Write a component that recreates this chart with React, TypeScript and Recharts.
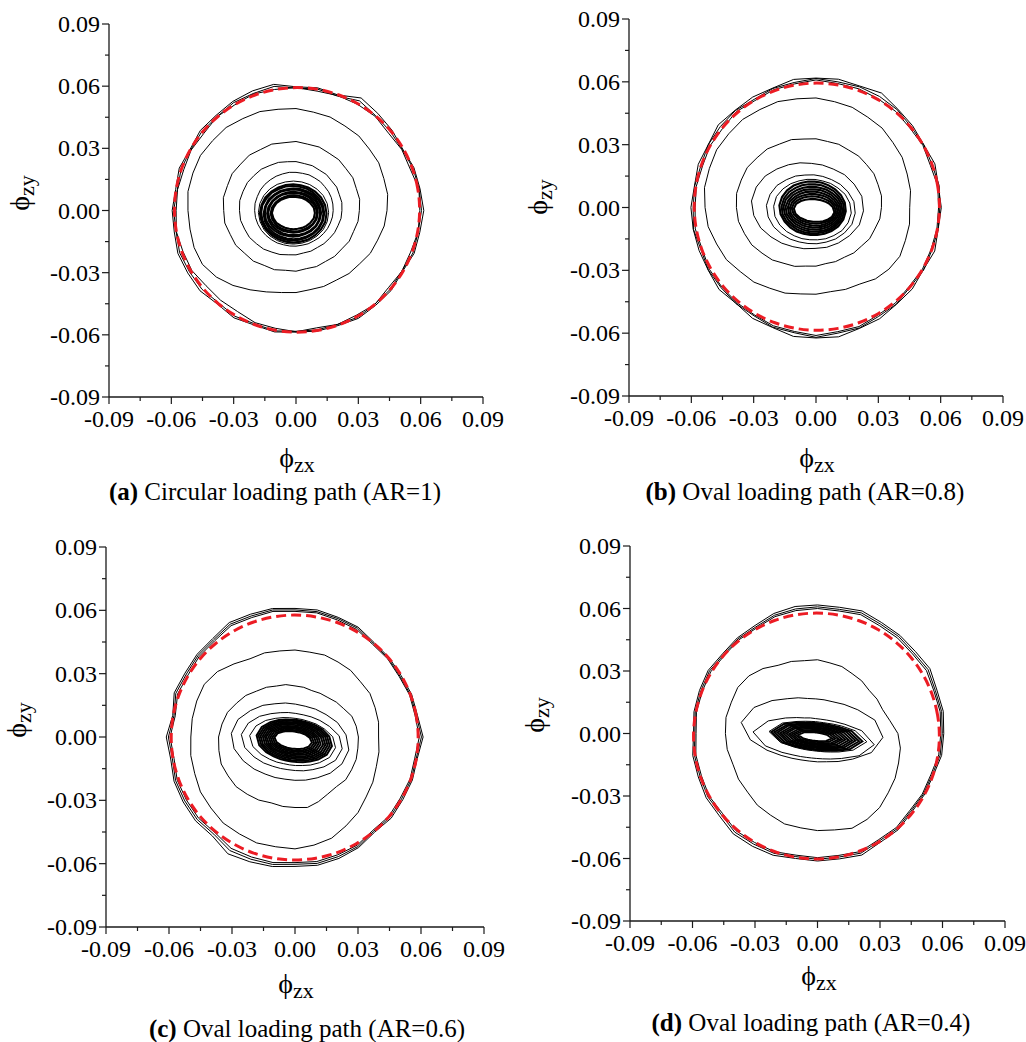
import React from 'react';
import { ScatterChart, Scatter, XAxis, YAxis } from 'recharts';

// ---------- axis ticks ----------
const TICKS = [-0.09, -0.075, -0.06, -0.045, -0.03, -0.015, 0, 0.015, 0.03, 0.045, 0.06, 0.075, 0.09];
const TICK_LABELS = ['-0.09', '-0.06', '-0.03', '0.00', '0.03', '0.06', '0.09'];

// ---------- data (all radii in units of 0.001 rad, sampled evenly around each loop) ----------
// Panel (a) circular path AR=1
const aRed = [59.3,59.3,59.3,59.3,59.3,59.3,59.3,59.3,59.3,59.3,59.3,59.3,59.3,59.3,59.3,59.3,59.3,59.3,59.3,59.3,59.3,59.3,59.3,59.3,59.3,59.3,59.3,59.3,59.3,59.3,59.3,59.3,59.3,59.3,59.3,59.3];
const aRedCenter = [0.5, 0.3];
const aOuter = [
  [61.5,60.6,60.4,59.3,60.3,61.2,62.7,59.3,60.1,59.7,61.8,61.4,60.8,59.9,60.1,58.9,59.8,58.8,59.6,59.5,60.5,60.2,60.3,58.9,59.8,58.8,59.5,58.7,59.1,59.1,60.1,59.7,59.9,59.1,60.5,60.5],
  [60.4,60.2,59.9,59.0,59.3,59.7,61.1,58.7,59.5,59.1,60.8,60.1,60.1,59.1,59.2,58.5,58.8,58.0,58.9,58.6,59.6,59.2,59.1,58.1,58.9,58.2,59.0,58.3,58.5,58.5,59.5,59.0,59.2,58.7,59.9,59.7],
  [59.6,60.1,58.5,58.8,58.1,59.3,59.2,59.0,58.5,59.3,59.3,59.8,58.9,59.1,57.9,58.3,57.5,57.9,57.7,58.5,57.9,57.9,56.5,56.5,56.3,57.6,57.7,58.5,57.5,58.5,58.3,59.1,58.0,58.8,58.7,59.7],
];
const aMid = [
  [43.8,44.8,45.0,46.0,46.1,47.0,47.1,48.0,48.2,49.2,49.6,50.8,51.2,52.3,52.4,53.1,52.8,52.8,52.0,51.8,52.2,52.0,50.0,47.2,44.2,41.8,40.2,39.6,38.8,39.0,38.8,39.7,40.0,41.3,41.8,43.1],
  [30.5,31.1,30.9,31.6,31.4,32.0,31.9,32.6,32.5,33.3,33.2,34.1,34.0,34.9,34.8,35.5,35.1,35.5,34.8,34.8,33.7,33.5,32.2,31.9,30.6,30.4,29.3,29.3,28.5,28.8,28.4,28.9,28.8,29.6,29.5,30.3],
  [22.1,22.4,22.2,22.6,22.3,22.7,22.5,23.0,23.0,23.6,23.9,24.7,25.1,26.0,26.3,27.0,27.1,27.5,27.2,27.1,26.3,25.9,24.9,24.3,23.2,22.6,21.7,21.4,20.8,20.9,20.6,20.9,21.0,21.4,21.5,22.0],
  [17.9,18.0,18.1,18.1,18.0,18.2,18.1,18.3,18.2,18.4,18.7,18.8,19.1,19.3,19.6,19.8,19.8,20.0,19.9,19.8,19.5,19.2,18.8,18.4,18.1,17.6,17.4,17.2,17.0,17.1,17.0,17.2,17.3,17.5,17.6,17.8],
];
const aInner = [
  [16.9,16.8,16.5,16.0,15.6,15.3,15.2,15.3,15.7,16.1,16.5,16.8,16.9,16.7,16.4,16.0,15.6,15.4,15.2,15.3,15.6,16.0,16.5,16.8],
  [16.0,15.8,15.4,14.9,14.4,14.1,14.0,14.2,14.4,14.9,15.5,15.8,16.1,15.8,15.4,14.8,14.4,14.1,14.1,14.1,14.5,14.9,15.4,15.9],
  [15.2,15.0,14.6,14.0,13.6,13.2,13.1,13.3,13.5,14.1,14.5,15.1,15.2,14.9,14.6,14.0,13.5,13.2,13.2,13.2,13.6,14.0,14.6,15.0],
  [14.4,14.2,13.7,13.2,12.6,12.4,12.2,12.3,12.7,13.1,13.8,14.1,14.4,14.2,13.7,13.2,12.7,12.3,12.3,12.3,12.6,13.2,13.7,14.2],
  [13.6,13.3,12.9,12.3,11.7,11.5,11.3,11.4,11.8,12.3,12.8,13.4,13.5,13.4,12.9,12.2,11.8,11.4,11.4,11.5,11.7,12.3,12.9,13.3],
  [12.7,12.5,12.1,11.4,10.9,10.5,10.5,10.6,10.9,11.5,12.0,12.6,12.8,12.5,12.0,11.3,10.9,10.6,10.4,10.6,10.9,11.4,12.1,12.5],
  [11.9,11.8,11.1,10.6,10.0,9.7,9.5,9.7,10.1,10.5,11.2,11.6,12.0,11.7,11.2,10.5,10.0,9.6,9.6,9.7,10.0,10.6,11.1,11.7],
  [11.1,10.9,10.4,9.6,9.1,8.8,8.7,8.9,9.2,9.7,10.3,10.9,11.2,10.8,10.3,9.7,9.1,8.7,8.7,8.8,9.1,9.6,10.4,10.9],
  [10.3,10.1,9.4,8.8,8.3,7.9,7.8,8.0,8.2,8.8,9.5,10.0,10.4,10.0,9.5,8.7,8.2,7.9,7.9,7.9,8.3,8.8,9.4,10.1],
];
const aInnerCenters = [[-1.2,-1.0],[-1.3,-1.4],[-1.6,-1.3],[-1.2,-1.6],[-1.5,-1.2],[-1.1,-1.5],[-1.4,-1.1],[-1.0,-1.4],[-1.2,-1.2]];
const aThinInner = 1;
const aTilt = 0;

// Panel (b) oval path AR=0.8
const bRed = [59.3,59.3,59.3,59.3,59.3,59.3,59.3,59.3,59.3,59.3,59.3,59.3,59.3,59.3,59.3,59.3,59.3,59.3,59.3,59.3,59.3,59.3,59.3,59.3,59.3,59.3,59.3,59.3,59.3,59.3,59.3,59.3,59.3,59.3,59.3,59.3];
const bRedCenter = [0.4, 0.4];
const bOuter = [
  [60.3,59.8,60.9,59.9,60.7,61.3,63.1,61.7,62.2,61.8,62.1,60.7,60.9,60.6,61.4,59.9,60.3,59.4,60.2,60.0,59.9,59.9,60.9,59.8,61.1,61.0,62.5,62.3,62.7,61.4,61.3,60.3,60.5,59.6,60.8,59.7],
  [59.6,60.2,59.5,59.9,59.8,60.9,61.2,61.3,60.9,61.6,60.6,60.5,59.6,60.4,60.1,59.9,58.9,59.3,59.1,59.9,58.9,59.8,59.6,59.9,59.7,60.8,60.7,62.0,60.9,61.2,60.1,60.2,59.1,59.8,59.4,59.7],
  [59.0,59.5,58.6,59.4,59.0,59.8,59.9,60.3,60.1,60.9,59.9,59.8,58.9,59.7,58.7,58.9,58.1,58.5,58.2,59.0,58.3,59.2,59.1,59.3,59.2,60.1,60.1,61.1,60.2,60.5,59.4,59.5,58.6,59.1,58.9,59.1],
];
const bMid = [
  [45.1,46.2,46.7,47.9,48.3,49.5,49.8,50.9,51.3,52.3,52.7,53.8,54.0,54.9,54.8,55.2,54.6,54.5,53.4,52.7,50.9,49.8,47.6,46.5,44.5,43.5,41.9,41.4,40.8,41.6,42.2,44.5,45.8,46.6,45.8,45.7],
  [31.5,32.0,31.8,32.2,31.8,32.0,31.6,32.1,32.0,32.8,33.2,34.5,35.0,36.5,37.0,38.2,38.3,38.8,38.3,37.9,36.6,35.7,33.9,32.7,30.8,29.9,28.4,28.0,27.2,27.5,27.4,28.3,28.6,29.8,30.1,31.2],
];
const bInner = [
  [27.0,26.5,24.7,23.2,21.5,20.8,20.4,20.9,21.7,23.0,24.9,26.3,27.1,26.3,24.9,23.0,21.7,20.7,20.5,20.6,21.8,23.1,24.7,26.5],
  [21.4,21.0,19.7,18.5,17.3,16.7,16.5,16.6,17.5,18.4,19.9,20.9,21.5,20.9,19.8,18.4,17.4,16.6,16.4,16.7,17.3,18.5,19.7,21.0],
  [18.8,18.3,17.4,16.1,15.3,14.6,14.5,14.7,15.2,16.2,17.3,18.4,18.7,18.3,17.3,16.2,15.2,14.7,14.4,14.6,15.3,16.1,17.4,18.3],
  [16.0,15.7,15.0,14.1,13.4,13.0,12.8,13.0,13.4,14.2,15.0,15.7,16.1,15.7,14.9,14.1,13.5,12.9,12.8,12.9,13.4,14.1,15.0,15.7],
  [15.1,14.8,13.9,13.1,12.3,11.9,11.7,11.9,12.4,13.0,14.0,14.7,15.1,14.8,14.0,13.0,12.4,11.9,11.8,11.9,12.3,13.1,13.9,14.8],
  [14.2,13.8,13.0,12.0,11.3,10.8,10.7,10.9,11.3,12.0,12.9,13.9,14.3,13.8,12.9,12.0,11.2,10.8,10.7,10.8,11.3,12.1,12.9,13.8],
  [13.3,12.9,11.9,11.0,10.2,9.8,9.6,9.7,10.3,10.9,11.9,12.8,13.4,12.9,11.8,10.9,10.2,9.8,9.6,9.8,10.2,11.0,11.9,12.9],
  [12.5,11.9,10.9,9.9,9.1,8.7,8.6,8.7,9.2,9.9,10.8,12.0,12.4,11.9,10.9,9.8,9.2,8.7,8.5,8.7,9.1,9.9,10.9,11.9],
  [11.6,11.0,9.8,8.9,8.1,7.6,7.5,7.7,8.0,8.8,9.9,11.0,11.5,11.1,9.9,8.8,8.1,7.6,7.5,7.7,8.1,8.9,9.8,11.0],
  [10.7,10.0,8.9,7.7,7.0,6.6,6.5,6.6,7.0,7.8,8.8,10.1,10.7,10.0,8.8,7.8,7.0,6.6,6.4,6.6,7.0,7.7,8.9,10.0],
  [9.8,9.1,7.9,6.7,5.9,5.5,5.4,5.6,5.9,6.7,7.8,9.2,9.8,9.1,7.8,6.6,6.0,5.5,5.4,5.5,6.0,6.7,7.8,9.1],
];
const bInnerCenters = [[-4.05,0.75],[-2.45,-0.85],[-1.75,-1.05],[-1.6,-0.4],[-1.5,-0.6],[-1.4,-0.8],[-1.3,-0.9],[-1.2,-1.0],[-1.1,-1.1],[-1.0,-1.2],[-0.9,-1.4]];
const bThinInner = 3;
const bTilt = -5;

// Panel (c) oval path AR=0.6
const cRed = [59.1,59.1,59.0,58.9,58.8,58.6,58.5,58.4,58.3,58.3,58.3,58.4,58.5,58.6,58.8,58.9,59.0,59.1,59.1,59.1,59.0,58.9,58.8,58.6,58.5,58.4,58.3,58.3,58.3,58.4,58.5,58.6,58.8,58.9,59.0,59.1];
const cRedCenter = [-0.15, -0.25];
const cOuter = [
  [61.0,59.2,59.1,58.3,58.5,58.5,60.1,60.3,61.1,60.9,61.8,61.9,62.6,60.9,60.9,60.5,61.2,59.1,61.3,60.1,61.3,61.5,61.8,61.2,63.9,62.9,62.3,61.3,61.7,61.2,60.5,58.9,59.8,59.3,59.5,59.1],
  [60.2,58.7,58.5,57.7,58.0,57.9,59.5,59.7,60.3,60.2,61.1,61.0,61.7,60.2,60.2,59.7,60.4,58.5,60.3,59.3,60.5,60.6,60.8,60.1,62.1,61.6,61.3,60.3,60.8,60.3,59.9,58.3,59.1,58.6,58.9,58.6],
  [59.2,58.1,58.1,57.3,57.6,57.4,58.8,59.0,59.7,59.5,60.4,60.2,60.9,59.5,59.5,58.8,59.5,57.9,59.5,58.5,59.7,59.7,59.9,59.2,60.9,60.5,60.4,59.5,59.9,59.4,59.2,57.7,58.4,57.9,58.3,57.9],
];
const cMid = [
  [39.8,40.4,40.6,41.2,40.7,41.2,41.0,41.3,40.8,41.2,41.4,42.4,42.8,45.2,48.2,49.9,49.8,49.7,49.6,50.4,50.8,52.0,52.3,53.2,53.0,53.4,52.8,53.0,52.0,51.0,48.6,46.7,44.2,42.8,41.2,40.6],
  [30.2,29.6,28.8,26.8,25.7,24.4,23.9,23.4,23.9,24.2,25.2,25.7,27.2,28.4,30.6,32.1,34.2,35.3,36.4,36.8,37.4,36.8,36.6,35.4,34.5,33.2,33.4,33.4,33.9,32.6,31.2,30.7,31.5,31.1,31.0,30.4],
];
const cInner = [
  [28.2,26.8,24.3,21.4,19.6,18.3,18.0,18.5,19.4,21.6,24.0,27.0,28.3,26.9,24.1,21.5,19.4,18.4,17.9,18.4,19.6,21.4,24.2,26.8],
  [24.2,22.7,19.3,16.7,14.9,13.8,13.5,13.9,14.8,16.6,19.5,22.5,24.3,22.6,19.4,16.8,14.8,13.8,13.4,13.8,14.9,16.6,19.4,22.6],
  [20.6,19.2,16.2,13.9,12.2,11.4,11.1,11.4,12.3,13.8,16.3,19.0,20.7,19.1,16.2,13.8,12.3,11.3,11.1,11.4,12.2,13.9,16.2,19.1],
  [18.1,16.8,14.4,12.3,10.9,10.1,9.9,10.1,10.9,12.3,14.4,16.8,18.1,16.8,14.4,12.3,10.9,10.1,9.9,10.1,10.9,12.3,14.4,16.8],
  [17.1,15.8,13.5,11.5,10.2,9.5,9.2,9.5,10.2,11.5,13.5,15.8,17.1,15.8,13.5,11.5,10.2,9.5,9.3,9.5,10.2,11.5,13.5,15.9],
  [16.1,14.9,12.6,10.7,9.5,8.8,8.6,8.8,9.5,10.7,12.6,14.8,16.1,14.9,12.6,10.7,9.5,8.8,8.6,8.8,9.5,10.7,12.6,14.9],
  [15.1,13.9,11.7,9.9,8.8,8.2,8.0,8.2,8.8,9.9,11.7,13.9,15.0,13.9,11.7,9.9,8.8,8.1,7.9,8.2,8.8,9.9,11.7,13.9],
  [14.1,12.9,10.8,9.2,8.1,7.5,7.3,7.5,8.1,9.2,10.8,12.9,14.0,12.9,10.9,9.1,8.1,7.5,7.3,7.5,8.1,9.2,10.8,12.9],
  [13.0,11.9,10.0,8.4,7.4,6.8,6.7,6.8,7.4,8.4,10.0,11.9,13.1,11.9,10.0,8.4,7.4,6.8,6.6,6.9,7.4,8.4,9.9,11.9],
  [12.0,11.0,9.1,7.6,6.7,6.2,6.0,6.2,6.7,7.6,9.1,11.0,12.0,10.9,9.1,7.6,6.7,6.2,6.0,6.2,6.7,7.6,9.0,11.0],
  [11.0,10.0,8.2,6.8,6.0,5.5,5.4,5.5,6.0,6.8,8.2,10.0,11.0,10.0,8.2,6.9,6.0,5.5,5.4,5.5,6.0,6.8,8.2,10.0],
  [10.0,9.0,7.3,6.1,5.3,4.9,4.7,4.8,5.3,6.0,7.3,9.0,10.0,9.0,7.3,6.0,5.3,4.9,4.7,4.9,5.2,6.1,7.3,9.0],
  [9.0,8.0,6.5,5.3,4.6,4.2,4.1,4.2,4.5,5.3,6.4,8.1,9.0,8.0,6.4,5.2,4.6,4.2,4.1,4.2,4.6,5.3,6.4,8.0],
];
const cInnerCenters = [[-2.3,-2.25],[-1.5,-2.2],[-1.1,-2.2],[-0.35,-1.8],[-0.4,-1.75],[-0.45,-1.7],[-0.5,-1.65],[-0.55,-1.6],[-0.65,-1.6],[-0.7,-1.55],[-0.75,-1.5],[-0.8,-1.5],[-0.85,-1.45]];
const cThinInner = 3;
const cTilt = -8;

// Panel (d) oval path AR=0.4
const dRed = [59.3,59.3,59.3,59.3,59.3,59.3,59.3,59.3,59.3,59.3,59.3,59.3,59.3,59.3,59.3,59.3,59.3,59.3,59.3,59.3,59.3,59.3,59.3,59.3,59.3,59.3,59.3,59.3,59.3,59.3,59.3,59.3,59.3,59.3,59.3,59.3];
const dRedCenter = [-0.5, -1.2];
const dOuter = [
  [60.6,61.3,61.0,62.3,61.3,61.5,61.5,62.6,61.5,61.7,61.9,61.3,59.9,59.9,59.5,60.6,60.3,60.2,59.5,60.8,60.9,61.7,61.5,62.9,62.5,62.2,60.9,61.2,61.1,62.1,60.3,60.3,58.9,59.1,59.1,60.5],
  [59.9,60.5,60.2,61.3,60.3,60.7,60.6,61.6,60.5,60.8,60.7,60.4,59.1,59.3,58.9,59.9,59.6,59.6,58.9,60.0,60.0,60.8,60.4,61.8,61.3,61.2,60.0,60.4,60.2,61.1,59.5,59.6,58.3,58.6,58.5,59.8],
  [59.2,59.8,59.5,60.4,59.5,59.8,59.7,60.7,59.7,60.0,59.9,59.7,58.5,58.7,58.3,59.2,58.9,59.0,58.3,59.3,59.3,60.1,59.6,60.9,60.4,60.4,59.3,59.6,59.4,60.3,58.8,58.9,57.7,58.1,57.9,59.1],
];
const dMid = [
  [38.6,35.3,33.3,33.0,32.3,33.0,33.2,34.2,34.4,35.4,35.5,36.8,37.8,40.7,43.0,44.2,44.0,44.6,44.2,44.0,43.2,43.8,43.8,44.9,45.2,46.2,46.0,46.6,47.0,48.4,47.6,46.4,44.3,43.0,41.4,40.4],
];
const dInner = [
  [34.0,30.3,23.8,19.5,16.7,15.5,15.0,15.3,16.9,19.3,24.0,30.1,34.4,30.2,23.9,19.4,16.8,15.4,15.0,15.5,16.7,19.5,23.8,30.3],
  [29.3,23.4,16.5,12.8,10.8,9.8,9.5,9.9,10.7,12.8,16.6,23.3,29.2,23.4,16.6,12.7,10.8,9.8,9.5,9.8,10.8,12.8,16.5,23.4],
  [23.6,18.1,12.5,9.5,7.9,7.2,7.0,7.3,8.0,9.5,12.4,18.2,23.6,18.1,12.4,9.5,8.0,7.2,7.0,7.2,8.0,9.5,12.5,18.1],
  [22.0,16.9,11.6,8.8,7.4,6.7,6.5,6.7,7.4,8.8,11.6,16.9,22.0,16.9,11.6,8.8,7.4,6.7,6.5,6.7,7.4,8.8,11.6,16.9],
  [20.5,15.6,10.7,8.1,6.8,6.2,6.0,6.2,6.8,8.1,10.7,15.6,20.5,15.6,10.7,8.1,6.8,6.2,6.0,6.2,6.8,8.1,10.7,15.6],
  [18.9,14.4,9.8,7.5,6.3,5.7,5.5,5.7,6.3,7.5,9.8,14.4,18.9,14.4,9.8,7.5,6.3,5.7,5.5,5.7,6.3,7.5,9.8,14.4],
  [17.4,13.2,9.0,6.8,5.7,5.2,5.0,5.2,5.7,6.8,9.0,13.1,17.4,13.2,8.9,6.8,5.7,5.2,5.0,5.2,5.7,6.8,9.0,13.2],
  [15.9,11.9,8.1,6.1,5.1,4.7,4.5,4.7,5.1,6.1,8.1,11.9,15.9,11.9,8.1,6.1,5.1,4.6,4.5,4.7,5.1,6.1,8.1,11.9],
  [14.3,10.7,7.2,5.4,4.6,4.1,4.0,4.1,4.6,5.4,7.2,10.7,14.3,10.7,7.2,5.4,4.6,4.1,4.0,4.1,4.6,5.4,7.2,10.7],
  [12.8,9.4,6.3,4.8,4.0,3.6,3.5,3.6,4.0,4.8,6.3,9.4,12.8,9.4,6.3,4.8,4.0,3.6,3.5,3.6,4.0,4.8,6.3,9.4],
  [11.3,8.2,5.4,4.1,3.4,3.1,3.0,3.1,3.4,4.1,5.4,8.2,11.3,8.2,5.4,4.1,3.4,3.1,3.0,3.1,3.4,4.1,5.4,8.2],
  [9.7,7.0,4.6,3.4,2.9,2.6,2.5,2.6,2.9,3.4,4.6,6.9,9.8,7.0,4.6,3.4,2.9,2.6,2.5,2.6,2.9,3.4,4.6,7.0],
  [8.2,5.7,3.7,2.8,2.3,2.1,2.0,2.1,2.3,2.7,3.7,5.7,8.2,5.7,3.7,2.7,2.3,2.1,2.0,2.1,2.3,2.8,3.7,5.7],
];
const dInnerCenters = [[-2.4,1.7],[-1.9,-2.3],[0.2,-1.5],[-0.3,-1.5],[-0.4,-1.55],[-0.5,-1.45],[-0.6,-1.5],[-0.7,-1.55],[-0.8,-1.45],[-0.85,-1.5],[-0.95,-1.55],[-1.05,-1.45],[-1.15,-1.5]];
const dThinInner = 3;
const dTilt = -6;

// ---------- styling ----------
const FONT = "'Liberation Serif', 'Times New Roman', 'DejaVu Serif', serif";
const RED = '#ec1c24';
const AXIS_COLOR = '#1a1a1a';
const D2R = Math.PI / 180;

function toPoints(c: number[], t: number, r: number[]) {
  const n = r.length;
  return r.map((ri, i) => {
    const a = (t + (360 * i) / n) * D2R;
    return { x: (c[0] + ri * Math.cos(a)) / 1000, y: (c[1] + ri * Math.sin(a)) / 1000 };
  });
}

const NoShape = () => <g />;

function tickInfo(v: number) {
  const k = Math.round(v * 1000);
  const major = k % 30 === 0;
  const label = major ? TICK_LABELS[k / 30 + 3] : '';
  return { major, label };
}

const XTick = (props: any) => {
  const { x, y, payload } = props;
  const { major, label } = tickInfo(payload.value);
  return (
    <g>
      <line x1={x} y1={y} x2={x} y2={y + (major ? 7 : 4)} stroke={AXIS_COLOR} strokeWidth={1.2} />
      {major && (
        <text x={x} y={y + 30} textAnchor="middle" fontFamily={FONT} fontSize={24} fill="#000">
          {label}
        </text>
      )}
    </g>
  );
};

const YTick = (props: any) => {
  const { x, y, payload } = props;
  const { major, label } = tickInfo(payload.value);
  return (
    <g>
      <line x1={x} y1={y} x2={x - (major ? 7 : 4)} y2={y} stroke={AXIS_COLOR} strokeWidth={1.2} />
      {major && (
        <text x={x - 9} y={y + 8} textAnchor="end" fontFamily={FONT} fontSize={24} fill="#000">
          {label}
        </text>
      )}
    </g>
  );
};

type Loop = { c: number[]; t: number; r: number[]; w: number };

function buildLoops(outer: number[][], mid: number[][], inner: number[][], innerCenters: number[][], tilt: number, thin: number, denseW: number): Loop[] {
  const res: Loop[] = [];
  outer.forEach((r) => res.push({ c: [0, 0], t: 0, r, w: 1 }));
  mid.forEach((r) => res.push({ c: [0, 0], t: 0, r, w: 1 }));
  inner.forEach((r, i) => res.push({ c: innerCenters[i], t: tilt, r, w: i < thin ? 1 : denseW }));
  return res;
}

const PANELS = [
  {
    key: 'a', left: 0, top: 0, width: 513, height: 470,
    margin: { top: 24, left: 49, right: 30, bottom: 43 },
    loops: buildLoops(aOuter, aMid, aInner, aInnerCenters, aTilt, aThinInner, 2.1),
    red: aRed, redCenter: aRedCenter,
  },
  {
    key: 'b', left: 513, top: 0, width: 513, height: 470,
    margin: { top: 19, left: 56, right: 23, bottom: 44 },
    loops: buildLoops(bOuter, bMid, bInner, bInnerCenters, bTilt, bThinInner, 2.1),
    red: bRed, redCenter: bRedCenter,
  },
  {
    key: 'c', left: 0, top: 520, width: 513, height: 480,
    margin: { top: 27, left: 46, right: 29, bottom: 43 },
    loops: buildLoops(cOuter, cMid, cInner, cInnerCenters, cTilt, cThinInner, 2.0),
    red: cRed, redCenter: cRedCenter,
  },
  {
    key: 'd', left: 513, top: 520, width: 513, height: 480,
    margin: { top: 26, left: 57, right: 21, bottom: 49 },
    loops: buildLoops(dOuter, dMid, dInner, dInnerCenters, dTilt, dThinInner, 1.9),
    red: dRed, redCenter: dRedCenter,
  },
];

const X_TITLES = [
  { x: 297, y: 467 },
  { x: 817, y: 467 },
  { x: 296, y: 993 },
  { x: 819, y: 985 },
];
const Y_TITLES = [
  { x: 28.5, y: 193 },
  { x: 546.5, y: 197 },
  { x: 25.5, y: 720 },
  { x: 544, y: 715 },
];
const CAPTIONS = [
  { x: 275, y: 500, tag: '(a)', text: ' Circular loading path (AR=1)' },
  { x: 805, y: 500, tag: '(b)', text: ' Oval loading path (AR=0.8)' },
  { x: 307, y: 1037, tag: '(c)', text: ' Oval loading path (AR=0.6)' },
  { x: 811, y: 1031, tag: '(d)', text: ' Oval loading path (AR=0.4)' },
];

function Panel({ cfg }: { cfg: any }) {
  return (
    <div style={{ position: 'absolute', left: cfg.left, top: cfg.top }}>
      <ScatterChart width={cfg.width} height={cfg.height} margin={cfg.margin}>
        <XAxis
          type="number"
          dataKey="x"
          domain={[-0.09, 0.09]}
          ticks={TICKS}
          interval={0}
          allowDataOverflow
          tickLine={false}
          tickSize={0}
          tickMargin={0}
          height={30}
          axisLine={{ stroke: AXIS_COLOR, strokeWidth: 1.3 }}
          tick={XTick}
        />
        <YAxis
          type="number"
          dataKey="y"
          domain={[-0.09, 0.09]}
          ticks={TICKS}
          interval={0}
          allowDataOverflow
          tickLine={false}
          tickSize={0}
          tickMargin={0}
          width={60}
          axisLine={{ stroke: AXIS_COLOR, strokeWidth: 1.3 }}
          tick={YTick}
        />
        {cfg.loops.map((l: Loop, i: number) => (
          <Scatter
            key={cfg.key + 'k' + i}
            data={toPoints(l.c, l.t, l.r)}
            line={{ stroke: '#000', strokeWidth: l.w }}
            lineJointType="linearClosed"
            shape={NoShape}
            fill="none"
            isAnimationActive={false}
          />
        ))}
        <Scatter
          key={cfg.key + 'red'}
          data={toPoints(cfg.redCenter, 0, cfg.red)}
          line={{ stroke: RED, strokeWidth: 3, strokeDasharray: '10 5' }}
          lineJointType="basisClosed"
          shape={NoShape}
          fill="none"
          isAnimationActive={false}
        />
      </ScatterChart>
    </div>
  );
}

export default function App() {
  return (
    <div style={{ position: 'absolute', left: 0, top: 0, width: 1026, height: 1042, background: '#fff' }}>
      {PANELS.map((p) => (
        <Panel key={p.key} cfg={p} />
      ))}
      <svg width={1026} height={1042} style={{ position: 'absolute', left: 0, top: 0, pointerEvents: 'none' }}>
        {X_TITLES.map((t, i) => (
          <text key={'xt' + i} x={t.x} y={t.y} textAnchor="middle" fontFamily={FONT} fill="#000">
            <tspan fontSize={28}>ϕ</tspan>
            <tspan fontSize={22} dy={5}>zx</tspan>
          </text>
        ))}
        {Y_TITLES.map((t, i) => (
          <text key={'yt' + i} transform={`translate(${t.x},${t.y}) rotate(-90)`} textAnchor="middle" fontFamily={FONT} fill="#000">
            <tspan fontSize={28}>ϕ</tspan>
            <tspan fontSize={22} dy={5}>zy</tspan>
          </text>
        ))}
        {CAPTIONS.map((c, i) => (
          <text key={'cap' + i} x={c.x} y={c.y} textAnchor="middle" fontFamily={FONT} fontSize={25} fill="#000">
            <tspan fontWeight="bold">{c.tag}</tspan>
            {c.text}
          </text>
        ))}
      </svg>
    </div>
  );
}
